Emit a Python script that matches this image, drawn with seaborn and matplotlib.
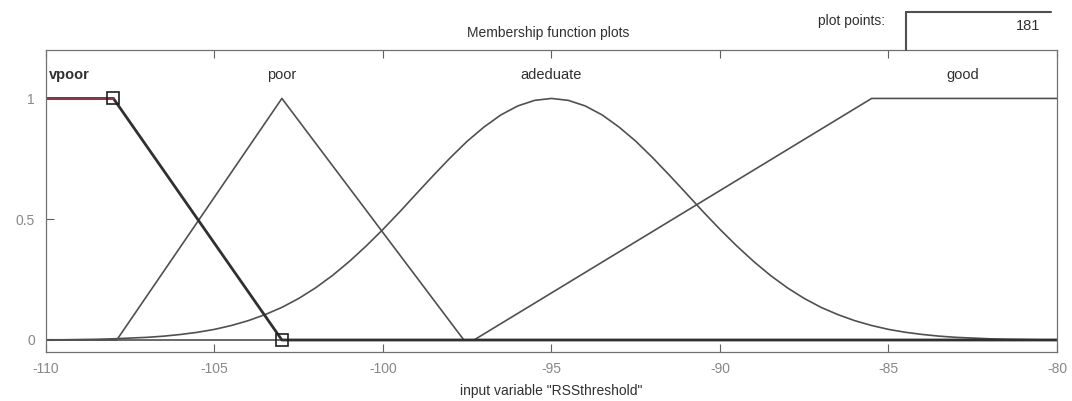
import numpy as np
import pandas as pd
import seaborn as sns
import matplotlib.pyplot as plt

# breakpoints
vpoor_x = [-110, -108, -103, -80]
vpoor_y = [1, 1, 0, 0]
poor_x = [-110, -107.9, -103, -97.6, -80]
poor_y = [0, 0, 1, 0, 0]
good_x = [-110, -97.3, -85.5, -80]
good_y = [0, 0, 1, 1]
# adequate curve, read every half unit from -110 to -80
adeq_x = [-110 + 0.5 * i for i in range(61)]
adeq_left = [0.001, 0.001, 0.002, 0.003, 0.005, 0.008, 0.011, 0.016, 0.023, 0.032,
             0.044, 0.060, 0.080, 0.105, 0.135, 0.172, 0.216, 0.267, 0.325, 0.389,
             0.458, 0.531, 0.607, 0.682, 0.755, 0.823, 0.882, 0.932, 0.969, 0.992]
adeq_y = adeq_left + [1.000] + adeq_left[::-1]

mf_names = ['vpoor', 'poor', 'adeduate', 'good']
mf_label_x = [-109.9, -103, -95, -82.8]
x_ticks = [-110, -105, -100, -95, -90, -85, -80]
y_ticks = [0, 0.5, 1]
y_tick_labels = ['0', '0.5', '1']

sns.set_style('white')
plt.rcParams['font.family'] = ['Liberation Sans', 'DejaVu Sans']

fig = plt.figure(figsize=(10.72, 4.01), dpi=100)
ax = fig.add_axes([0.0429, 0.122, 0.9431, 0.753])

line_col = '#505050'
sns.lineplot(x=poor_x, y=poor_y, ax=ax, color=line_col, lw=1.2, sort=False, estimator=None)
sns.lineplot(x=adeq_x, y=adeq_y, ax=ax, color=line_col, lw=1.2, sort=False, estimator=None)
sns.lineplot(x=good_x, y=good_y, ax=ax, color=line_col, lw=1.2, sort=False, estimator=None)
# selected function drawn heavier
sns.lineplot(x=vpoor_x, y=vpoor_y, ax=ax, color='#303030', lw=2.0, sort=False, estimator=None)
ax.plot(vpoor_x[:2], vpoor_y[:2], color='#8a3a4a', lw=1.8)
ax.plot([vpoor_x[1], vpoor_x[2]], [vpoor_y[1], vpoor_y[2]], ls='none', marker='s',
        ms=9, mfc='none', mec='#202020', mew=1.2)

ax.set_xlim(-110, -80)
ax.set_ylim(-0.05, 1.2)
ax.set_xticks(x_ticks)
ax.set_xticklabels([str(t) for t in x_ticks])
ax.set_yticks(y_ticks)
ax.set_yticklabels(y_tick_labels)
ax.tick_params(axis='both', direction='in', length=6, width=0.8, color='#606060',
               labelcolor='#888888', labelsize=10)
ax.tick_params(axis='x', top=True, bottom=True, pad=7)
ax.tick_params(axis='y', left=True, pad=8)
for sp in ax.spines.values():
    sp.set_color('#707070')
    sp.set_linewidth(0.9)

for i, name in enumerate(mf_names):
    ha = 'left' if i == 0 else 'center'
    ax.text(mf_label_x[i], 1.095, name, ha=ha, va='center', fontsize=10.5,
            color='#303030', fontweight='bold' if i == 0 else 'normal')

ax.set_xlabel('input variable "RSSthreshold"', fontsize=10, color='#303030', labelpad=6)
fig.text(0.511, 0.918, 'Membership function plots', ha='center', va='center',
         fontsize=10, color='#303030')
fig.text(0.826, 0.948, 'plot points:', ha='right', va='center', fontsize=10, color='#303030')
fig.text(0.970, 0.935, '181', ha='right', va='center', fontsize=10.5, color='#303030')
# edit box edges
fig.add_artist(plt.Line2D([0.845, 0.98], [0.970, 0.970], color='#505050', lw=1.5))
fig.add_artist(plt.Line2D([0.845, 0.845], [0.970, 0.876], color='#505050', lw=1.5))

fig.savefig('out.png', dpi=100)
